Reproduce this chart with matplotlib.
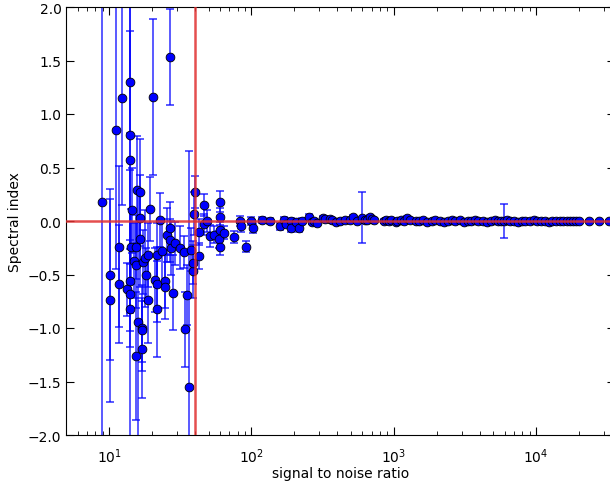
import matplotlib
matplotlib.use("Agg")
import matplotlib.pyplot as plt
import numpy as np

# ---- data ----
snr = [8.9, 10.2, 10.2, 11.1, 11.8, 11.8, 12.3, 13.3, 14.0, 14.1,
       14.0, 14.1, 14.1, 14.1, 14.3, 14.5, 15.0, 15.5, 15.5, 15.7,
       16.0, 15.5, 16.5, 16.5, 16.5, 16.9, 16.9, 16.9, 17.3, 17.9,
       18.2, 18.9, 18.7, 19.4, 20.2, 21.1, 21.7, 21.7, 21.7, 22.6,
       23.5, 24.5, 24.5, 25.4, 26.6, 26.6, 26.6, 27.3, 28.1, 29.2,
       31.6, 33.4, 33.9, 35.4, 36.4, 37.6, 39.0, 39.0, 39.3, 40.4,
       43.0, 43.0, 46.7, 46.7, 48.6, 51.4, 54.3, 60.5, 60.5, 59.9,
       59.0, 60.5, 63.7, 74.8, 83.0, 84.0, 91.0, 98.5, 103.0, 119.0,
       136.0, 158.0, 168.0, 176.0, 188.0, 190.0, 204.0, 215.0, 227.0, 252.0,
       265.0, 273.0, 288.0, 319.0, 330.0, 358.0, 368.0, 390.0, 421.0, 456.0,
       494.0, 518.0, 555.0, 593.0, 630.0, 648.0, 680.0, 700.0, 720.0, 855.0,
       875.0, 930.0, 950.0, 1030.0, 1050.0, 1120.0, 1180.0, 1230.0, 1300.0, 1420.0,
       1500, 1600, 1700, 1850, 1950, 2100, 2250, 2400, 2550, 2700,
       2900, 3100, 3300, 3500, 3700, 3900, 4200, 4500, 4800, 5100,
       5400, 5700, 5920, 6200, 6600, 7000, 7400, 7900, 8400, 9000,
       9600, 10200, 10900, 11600, 12300, 13000, 13800, 14600, 15500, 16400,
       17300, 18200, 19200, 20100, 23600, 27800, 32700]

index = [0.18, -0.50, -0.74, 0.85, -0.24, -0.59, 1.15, -0.64, 1.30, 0.80,
         0.57, -0.56, -0.68, -0.82, -0.24, 0.10, -0.37, -0.24, -0.41, 0.29,
         -0.94, -1.26, 0.27, 0.03, -0.17, -1.00, -1.02, -1.20, -0.38, -0.35,
         -0.50, -0.32, -0.74, 0.11, 1.16, -0.55, -0.32, -0.59, -0.82, 0.01,
         -0.28, -0.56, -0.62, -0.13, 1.53, -0.07, -0.18, -0.25, -0.67, -0.21,
         -0.25, -0.29, -1.01, -0.69, -1.55, -0.27, -0.47, -0.39, 0.07, 0.27,
         -0.33, -0.10, 0.15, -0.03, 0.00, -0.14, -0.13, 0.18, 0.04, -0.08,
         -0.17, -0.24, -0.11, -0.15, 0.00, -0.05, -0.24, 0.00, -0.07, 0.01,
         0.00, -0.05, 0.01, -0.03, 0.00, -0.07, -0.01, -0.07, 0.00, 0.04,
         -0.01, 0.00, -0.02, 0.03, 0.02, 0.02, 0.01, -0.01, 0.00, 0.01,
         0.01, 0.04, 0.00, 0.03, 0.01, 0.01, 0.04, 0.02, 0.01, 0.00,
         0.01, 0.00, 0.01, -0.01, 0.00, 0.01, 0.00, 0.03, 0.01, 0.00,
         0.00, 0.01, -0.01, 0.00, 0.01, 0.00, -0.01, 0.00, 0.01, 0.00,
         0.01, -0.01, 0.00, 0.00, 0.01, 0.00, 0.00, -0.01, 0.00, 0.01,
         0.00, 0.00, 0.00, 0.01, 0.00, 0.00, -0.01, 0.00, 0.00, 0.00,
         0.01, 0.00, 0.00, 0.00, -0.01, 0.00, 0.00, 0.00, 0.00, 0.00,
         0.00, 0.00, 0.00, 0.00, 0.00, 0.00, 0.00]

index_err = [2.30, 0.80, 0.95, 1.30, 0.75, 0.55, 1.00, 0.25, 0.48, 1.20,
             1.60, 0.30, 0.50, 1.30, 0.35, 0.40, 0.35, 0.30, 0.40, 0.50,
             1.20, 0.60, 0.50, 0.40, 0.45, 0.40, 0.30, 0.45, 0.30, 0.45,
             0.25, 0.30, 0.40, 0.30, 0.73, 0.30, 0.30, 0.35, 0.45, 0.25,
             0.30, 0.25, 0.30, 0.25, 0.45, 0.25, 0.20, 0.25, 0.35, 0.20,
             0.20, 0.15, 0.35, 0.28, 2.20, 0.20, 0.25, 0.20, 0.20, 0.15,
             0.12, 0.12, 0.10, 0.10, 0.10, 0.10, 0.08, 0.10, 0.08, 0.07,
             0.08, 0.08, 0.06, 0.06, 0.05, 0.05, 0.05, 0.04, 0.04, 0.03,
             0.03, 0.03, 0.03, 0.03, 0.03, 0.03, 0.03, 0.03, 0.03, 0.03,
             0.02, 0.02, 0.02, 0.02, 0.02, 0.02, 0.02, 0.02, 0.02, 0.02,
             0.02, 0.02, 0.02, 0.24, 0.02, 0.02, 0.02, 0.02, 0.02, 0.02,
             0.02, 0.02, 0.02, 0.02, 0.02, 0.02, 0.02, 0.02, 0.02, 0.02,
             0.01, 0.01, 0.01, 0.01, 0.01, 0.01, 0.01, 0.01, 0.01, 0.01,
             0.01, 0.01, 0.01, 0.01, 0.01, 0.01, 0.01, 0.01, 0.01, 0.01,
             0.01, 0.01, 0.16, 0.01, 0.01, 0.01, 0.01, 0.01, 0.01, 0.01,
             0.01, 0.01, 0.01, 0.01, 0.01, 0.01, 0.01, 0.01, 0.01, 0.01,
             0.01, 0.01, 0.01, 0.01, 0.01, 0.01, 0.01]

snr_cut = 40.0
y_ticks = [-2.0, -1.5, -1.0, -0.5, 0.0, 0.5, 1.0, 1.5, 2.0]

# ---- figure ----
fig = plt.figure(figsize=(6.10, 4.85), dpi=100)
ax = fig.add_axes([66.3 / 610, 49 / 485, (615 - 66.3) / 610, 428 / 485])

ax.errorbar(snr, index, yerr=index_err, fmt='none', ecolor=(0, 0, 1, 0.7),
            elinewidth=1.3, capsize=3, capthick=1.3, zorder=2)
ax.plot(snr, index, 'o', color='#0000ff', markeredgecolor='black',
        markeredgewidth=0.6, markersize=6.3, zorder=3)

ax.axhline(0.0, color='#e03030', lw=1.8, alpha=0.85, zorder=4)
ax.axvline(snr_cut, color='#e03030', lw=1.8, alpha=0.85, zorder=4)

ax.set_xscale('log')
ax.set_xlim(5, 35800)
ax.set_ylim(-2.0, 2.0)
ax.set_yticks(y_ticks)
ax.set_yticklabels(['\u2212%.1f' % -v if v < 0 else '%.1f' % v for v in y_ticks])

ax.tick_params(axis='both', which='both', direction='in', top=True, right=True,
               labelsize=10)
ax.tick_params(axis='both', which='major', length=6)
ax.tick_params(axis='both', which='minor', length=3)
ax.tick_params(axis='x', pad=8)

ax.set_xlabel('signal to noise ratio', fontsize=10, labelpad=1)
ax.set_ylabel('Spectral index', fontsize=10)

fig.savefig('out.png', dpi=100, facecolor='white')
